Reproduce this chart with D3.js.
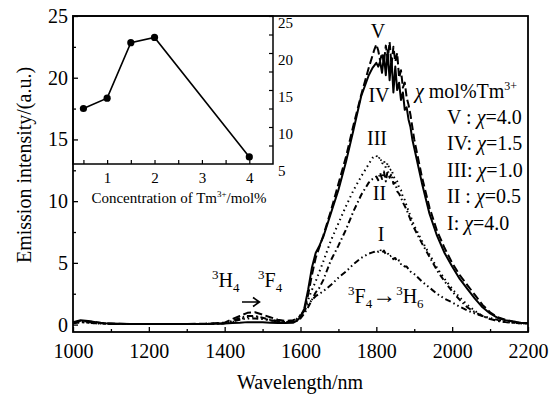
<!DOCTYPE html>
<html>
<head>
<meta charset="utf-8">
<title>Tm3+ emission</title>
<script src="https://cdn.jsdelivr.net/npm/d3@7"></script>
<style>
    body { margin: 0; background: #fff; }
</style>
</head>
<body>
<div id="chart"></div>
<script>
// wavelength grid (nm), shared by all five spectra
const wavelength = [
    1000, 1020, 1040, 1060, 1080,
    1100, 1150, 1200, 1250, 1300, 1350, 1400,
    1420, 1440, 1460, 1480, 1500, 1520, 1540, 1560, 1580,
    1590, 1600, 1610, 1620, 1630, 1640, 1650, 1660,
    1680, 1700, 1720, 1740, 1760, 1780,
    1790, 1795, 1800, 1805, 1810, 1815, 1820, 1825, 1830, 1835, 1840, 1845,
    1850, 1855, 1860, 1865, 1870, 1875, 1880, 1885, 1890, 1895, 1900,
    1920, 1940, 1960, 1980, 2000, 2020, 2040, 2060, 2080, 2100, 2120, 2140, 2160, 2180, 2200
];
const curveV = [
    0.15, 0.3, 0.25, 0.2, 0.1,
    0.08, 0.05, 0.05, 0.05, 0.05, 0.08, 0.15,
    0.45, 0.7, 0.95, 1.0, 0.8, 0.6, 0.4, 0.3, 0.35,
    0.45, 0.7, 1.2, 2.4, 4.0, 5.4, 6.3, 7.2,
    9.2, 11.4, 13.6, 16.2, 18.6, 20.8,
    21.8, 22.3, 22.7, 22.2, 21.4, 22.0, 21.2, 22.6, 21.5, 22.9, 21.0, 22.5,
    21.3, 22.0, 20.0, 20.6, 19.2, 19.6, 18.4, 17.8, 17.0, 16.0, 15.0,
    12.0, 9.5, 7.6, 6.2, 5.0, 4.0, 3.2, 2.4, 1.6, 1.0, 0.6, 0.4, 0.25, 0.15, 0.1
];
const curveIV = [
    0.2, 0.35, 0.3, 0.2, 0.1,
    0.08, 0.05, 0.05, 0.05, 0.05, 0.05, 0.08,
    0.12, 0.15, 0.2, 0.2, 0.18, 0.15, 0.12, 0.12, 0.15,
    0.3, 0.6, 1.3, 2.8, 4.6, 5.8, 6.4, 7.1,
    9.0, 10.9, 13.2, 15.8, 18.5, 20.2,
    20.8, 21.0, 21.2, 20.9, 21.3, 20.4, 21.8, 20.2, 22.2, 19.8, 21.6, 18.8,
    20.9, 19.0, 19.6, 18.2, 18.8, 17.4, 17.6, 16.6, 16.0, 15.0, 14.3,
    11.5, 9.0, 7.2, 5.8, 4.7, 3.7, 2.9, 2.1, 1.4, 0.9, 0.55, 0.35, 0.25, 0.15, 0.1
];
const curveIII = [
    0.1, 0.2, 0.15, 0.1, 0.08,
    0.05, 0.05, 0.05, 0.05, 0.05, 0.05, 0.1,
    0.2, 0.45, 0.6, 0.65, 0.5, 0.35, 0.25, 0.2, 0.25,
    0.35, 0.7, 1.2, 2.0, 2.8, 3.5, 4.3, 5.1,
    6.8, 8.2, 9.6, 10.9, 12.0, 13.0,
    13.5, 13.6, 13.7, 13.4, 13.6, 13.0, 13.3, 12.7, 13.1, 12.5, 12.6, 12.0,
    11.8, 11.6, 11.1, 10.9, 10.3, 10.1, 9.6, 9.2, 8.8, 8.4, 8.0,
    6.8, 5.7, 4.6, 3.7, 2.9, 2.2, 1.6, 1.1, 0.7, 0.45, 0.3, 0.2, 0.15, 0.1, 0.08
];
const curveII = [
    0.15, 0.25, 0.2, 0.15, 0.1,
    0.05, 0.05, 0.05, 0.05, 0.05, 0.05, 0.1,
    0.3, 0.55, 0.7, 0.7, 0.55, 0.4, 0.3, 0.2, 0.25,
    0.3, 0.5, 0.9, 1.4, 2.0, 2.6, 3.0, 3.6,
    5.2, 6.4, 7.7, 9.2, 10.5, 11.5,
    11.8, 11.9, 12.0, 11.7, 12.3, 11.8, 12.4, 11.6, 12.5, 11.9, 12.2, 11.4,
    11.5, 10.8, 10.6, 10.3, 9.9, 9.6, 9.3, 8.9, 8.5, 8.1, 7.8,
    6.6, 5.5, 4.4, 3.5, 2.7, 2.0, 1.4, 1.0, 0.7, 0.45, 0.3, 0.2, 0.15, 0.1, 0.08
];
const curveI = [
    0.1, 0.2, 0.15, 0.1, 0.08,
    0.05, 0.05, 0.05, 0.05, 0.05, 0.05, 0.1,
    0.25, 0.4, 0.5, 0.5, 0.45, 0.35, 0.25, 0.2, 0.25,
    0.45, 0.8, 1.1, 1.6, 2.0, 2.3, 2.5, 2.7,
    3.2, 3.8, 4.3, 4.9, 5.4, 5.75,
    5.85, 5.9, 6.0, 5.9, 6.1, 5.8, 6.0, 5.7, 5.8, 5.5, 5.6, 5.3,
    5.4, 5.1, 5.2, 4.9, 4.9, 4.7, 4.7, 4.5, 4.3, 4.2, 4.1,
    3.5, 3.0, 2.5, 2.1, 1.8, 1.45, 1.15, 0.9, 0.7, 0.53, 0.38, 0.27, 0.2, 0.14, 0.1
];

// inset: peak intensity vs Tm3+ concentration
const concentration = [0.5, 1.0, 1.5, 2.0, 4.0];
const peakIntensity = [12.5, 13.9, 21.4, 22.1, 5.95];

const xMajor = [1000, 1200, 1400, 1600, 1800, 2000, 2200];
const xMinor = [1100, 1300, 1500, 1700, 1900, 2100];
const yMajor = [0, 5, 10, 15, 20, 25];
const yMinor = [2.5, 7.5, 12.5, 17.5, 22.5];
const insetXTicks = [0.5, 1, 1.5, 2, 2.5, 3, 3.5, 4];
const insetYTicks = [7.5, 10, 12.5, 15, 17.5, 20, 22.5, 25];
const insetYLabels = [5, 10, 15, 20, 25];

const legendLines = ["V : χ=4.0", "IV: χ=1.5", "III: χ=1.0", "II : χ=0.5", "I: χ=4.0"];

const serif = "'Liberation Serif', 'Times New Roman', serif";
const width = 560, height = 396;
const svg = d3.select("#chart").append("svg")
    .attr("width", width)
    .attr("height", height)
    .style("font-family", serif);

const x = d3.scaleLinear().domain([1000, 2200]).range([73, 528]);
const y = d3.scaleLinear().domain([-0.6, 25]).range([332, 16]);

const series = [
    { name: "I", values: curveI, dash: "6,3,1.5,3,1.5,3" },
    { name: "II", values: curveII, dash: "6,3,1.5,3" },
    { name: "III", values: curveIII, dash: "1.5,3.5" },
    { name: "IV", values: curveIV, dash: null },
    { name: "V", values: curveV, dash: "8,3.5" }
];

const line = d3.line()
    .x(d => x(d[0]))
    .y(d => y(d[1]));

svg.append("g")
    .selectAll("path")
    .data(series)
    .enter().append("path")
    .attr("d", s => line(wavelength.map((w, i) => [w, s.values[i]])))
    .attr("fill", "none")
    .attr("stroke", "#000")
    .attr("stroke-width", 2)
    .attr("stroke-linejoin", "round")
    .attr("stroke-dasharray", s => s.dash);

// curve labels
const curveLabels = [
    { t: "V", x: 378, y: 38 },
    { t: "IV", x: 379, y: 102 },
    { t: "III", x: 377, y: 145 },
    { t: "II", x: 379.5, y: 200 },
    { t: "I", x: 381, y: 241 }
];
svg.append("g")
    .selectAll("text")
    .data(curveLabels)
    .enter().append("text")
    .attr("x", d => d.x)
    .attr("y", d => d.y)
    .attr("text-anchor", "middle")
    .attr("font-size", 20)
    .text(d => d.t);

// legend block
const legendTitle = svg.append("text")
    .attr("x", 415).attr("y", 98).attr("font-size", 20);
legendTitle.append("tspan").attr("font-style", "italic").text("χ");
legendTitle.append("tspan").text(" mol%Tm");
legendTitle.append("tspan").attr("font-size", 12).attr("dy", -8).text("3+");

svg.append("g")
    .selectAll("text")
    .data(legendLines)
    .enter().append("text")
    .attr("x", 447)
    .attr("y", (d, i) => 123.5 + i * 26.5)
    .attr("font-size", 20)
    .each(function (d) {
        const parts = d.split("χ");
        const t = d3.select(this);
        t.append("tspan").text(parts[0]);
        t.append("tspan").attr("font-style", "italic").text("χ");
        t.append("tspan").text(parts[1]);
    });

// transition annotations
function levelText(g, xPos, yPos, pieces) {
    const t = g.append("text").attr("x", xPos).attr("y", yPos).attr("font-size", 20);
    let shift = 0;
    pieces.forEach(p => {
        const target = p.sup ? -8 : p.sub ? 5 : 0;
        t.append("tspan")
            .attr("font-size", p.sup || p.sub ? 13 : (p.arrow ? 24 : 20))
            .attr("dy", target - shift)
            .text(p.s);
        shift = target;
    });
    return t;
}
const ann = svg.append("g");
levelText(ann, 212, 287, [{ s: "3", sup: true }, { s: "H" }, { s: "4", sub: true }]);
levelText(ann, 258, 287, [{ s: "3", sup: true }, { s: "F" }, { s: "4", sub: true }]);
// small arrow between the two levels
ann.append("path")
    .attr("d", "M242,302H259M253,297.5L259.5,302L253,306.5")
    .attr("fill", "none")
    .attr("stroke", "#000")
    .attr("stroke-width", 1.6);
levelText(ann, 348, 303, [
    { s: "3", sup: true }, { s: "F" }, { s: "4", sub: true },
    { s: "→", arrow: true }, { s: "3", sup: true }, { s: "H" }, { s: "6", sub: true }
]);

// inset
const ix = d3.scaleLinear().domain([0.28, 4.5]).range([73, 273]);
const iy = d3.scaleLinear().domain([5, 25]).range([164, 16]);
const inset = svg.append("g");
inset.append("rect")
    .attr("x", 73).attr("y", 16)
    .attr("width", 200).attr("height", 148)
    .attr("fill", "#fff")
    .attr("stroke", "#000")
    .attr("stroke-width", 1.5);

const insetData = concentration.map((c, i) => [c, peakIntensity[i]]);
inset.append("path")
    .attr("d", d3.line().x(d => ix(d[0])).y(d => iy(d[1]))(insetData))
    .attr("fill", "none")
    .attr("stroke", "#000")
    .attr("stroke-width", 1.6);
inset.selectAll("circle")
    .data(insetData)
    .enter().append("circle")
    .attr("cx", d => ix(d[0]))
    .attr("cy", d => iy(d[1]))
    .attr("r", 3.6)
    .attr("fill", "#000");

const ixAxis = inset.append("g")
    .attr("transform", "translate(0,164)")
    .call(d3.axisBottom(ix).tickValues(insetXTicks).tickSize(-4).tickPadding(8)
        .tickFormat(d => Number.isInteger(d) ? d : ""))
    .attr("font-family", null).attr("font-size", 15);
ixAxis.select(".domain").remove();
ixAxis.selectAll("line").attr("stroke-width", 1.2);

const iyAxis = inset.append("g")
    .attr("transform", "translate(273,0)")
    .call(d3.axisRight(iy).tickValues(insetYTicks).tickSize(-4).tickFormat(""));
iyAxis.select(".domain").remove();
iyAxis.selectAll("line").attr("stroke-width", 1.2);

const iyLabels = inset.append("g")
    .attr("transform", "translate(273,0)")
    .call(d3.axisRight(iy).tickValues(insetYLabels).tickSize(0).tickPadding(5))
    .attr("font-family", null).attr("font-size", 15);
iyLabels.select(".domain").remove();
iyLabels.selectAll("text").attr("transform", "translate(0,7)");

const insetTitle = inset.append("text")
    .attr("x", 179).attr("y", 203)
    .attr("text-anchor", "middle")
    .attr("font-size", 15);
insetTitle.append("tspan").text("Concentration of Tm");
insetTitle.append("tspan").attr("font-size", 9).attr("dy", -6).text("3+");
insetTitle.append("tspan").attr("dy", 6).text("/mol%");

// main frame and axes
svg.append("rect")
    .attr("x", 73).attr("y", 16)
    .attr("width", 455).attr("height", 316)
    .attr("fill", "none")
    .attr("stroke", "#000")
    .attr("stroke-width", 1.8);

const xAxis = svg.append("g")
    .attr("transform", "translate(0,332)")
    .call(d3.axisBottom(x).tickValues(xMajor).tickSize(-5).tickPadding(12).tickFormat(d3.format("d")))
    .attr("font-family", null).attr("font-size", 20);
xAxis.select(".domain").remove();
xAxis.selectAll("line").attr("stroke-width", 1.3);

const xAxisMinor = svg.append("g")
    .attr("transform", "translate(0,332)")
    .call(d3.axisBottom(x).tickValues(xMinor).tickSize(-3).tickFormat(""));
xAxisMinor.select(".domain").remove();
xAxisMinor.selectAll("line").attr("stroke-width", 1.3);

const yAxis = svg.append("g")
    .attr("transform", "translate(73,0)")
    .call(d3.axisLeft(y).tickValues(yMajor).tickSize(-5).tickPadding(5))
    .attr("font-family", null).attr("font-size", 20);
yAxis.select(".domain").remove();
yAxis.selectAll("line").attr("stroke-width", 1.3);

const yAxisMinor = svg.append("g")
    .attr("transform", "translate(73,0)")
    .call(d3.axisLeft(y).tickValues(yMinor).tickSize(-3).tickFormat(""));
yAxisMinor.select(".domain").remove();
yAxisMinor.selectAll("line").attr("stroke-width", 1.3);

svg.append("text")
    .attr("x", 300).attr("y", 389)
    .attr("text-anchor", "middle")
    .attr("font-size", 20)
    .text("Wavelength/nm");

svg.append("text")
    .attr("transform", "translate(31,165) rotate(-90)")
    .attr("text-anchor", "middle")
    .attr("font-size", 20)
    .text("Emission intensity/(a.u.)");
</script>
</body>
</html>
